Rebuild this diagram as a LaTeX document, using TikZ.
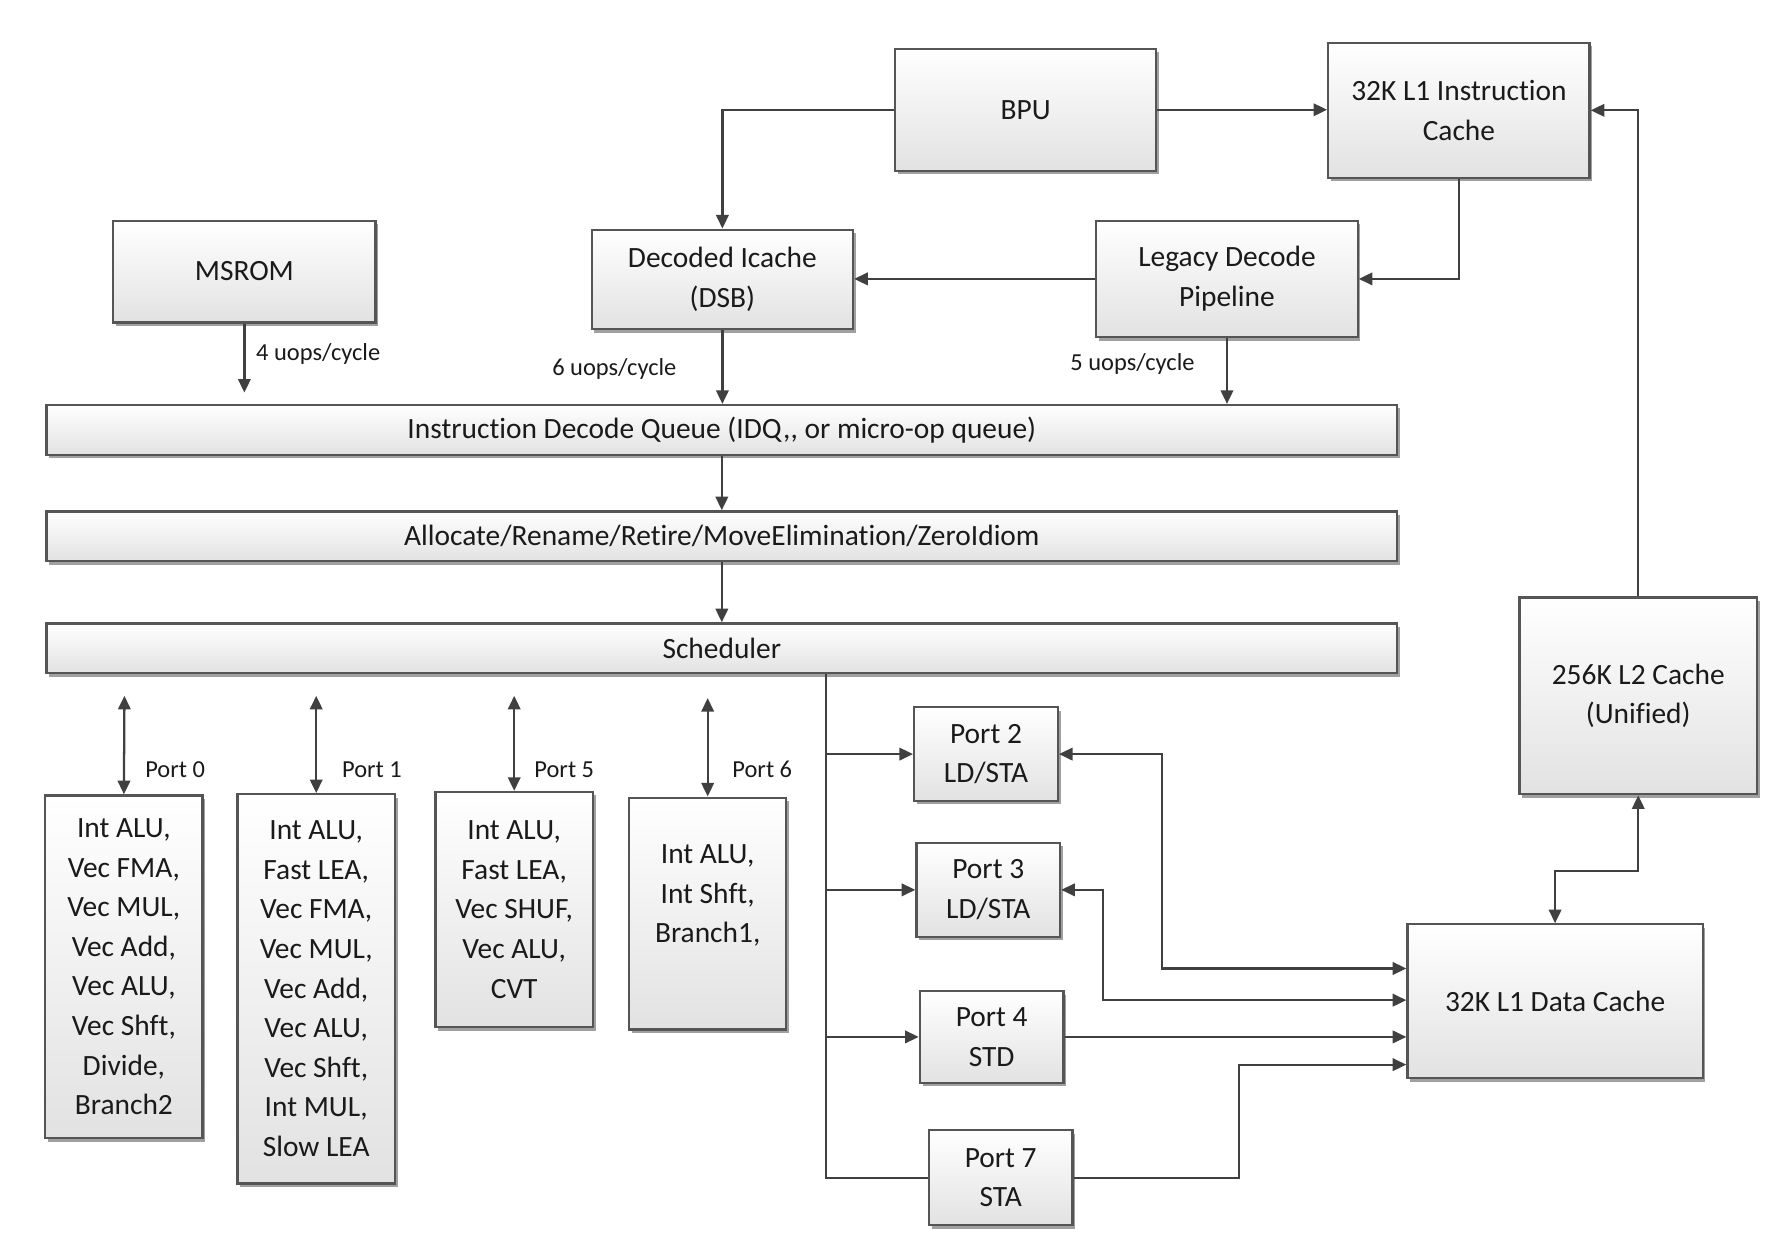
\documentclass[tikz,border=0pt]{standalone}
\usepackage{fontspec}
\setmainfont{Carlito}[Ligatures={NoCommon}]
\usetikzlibrary{arrows.meta,shadows}
\definecolor{ln}{HTML}{404040}
\definecolor{bd}{HTML}{555555}
\definecolor{bf}{HTML}{E2E2E2}
\definecolor{sh}{HTML}{A0A0A0}
\definecolor{tx}{HTML}{1A1A1A}
\tikzset{
 box/.style={draw=bd, line width=1pt, top color=white, bottom color=bf, align=center, inner sep=0pt,
   font=\fontsize{13}{17.5}\selectfont, text=tx,
   drop shadow={shadow xshift=1.2pt, shadow yshift=-1.5pt, fill=sh, opacity=1}},
 conn/.style={draw=ln, line width=1pt},
 arr/.style={conn, -{Triangle[length=6pt,width=5.5pt]}},
 darr/.style={conn, {Triangle[length=6pt,width=5.5pt]}-{Triangle[length=6pt,width=5.5pt]}},
 lbl/.style={font=\fontsize{10.8}{13}\selectfont, text=tx, inner sep=0pt},
}
\begin{document}
\begin{tikzpicture}[x=0.5pt,y=-0.5pt]
\useasboundingbox (0,0) rectangle (1568,1100);
% top boxes
\node[box, minimum width=115.5pt, minimum height=54pt] (bpu) at (906.5,97) {BPU};
\node[box, minimum width=115.5pt, minimum height=59.5pt] (l1i) at (1289.5,97.5) {32K L1 Instruction\\Cache};
\node[box, minimum width=116pt, minimum height=45pt] (msrom) at (216,240) {MSROM};
\node[box, minimum width=115.5pt, minimum height=44pt] (dsb) at (638.5,247) {Decoded Icache\\(DSB)};
\node[box, minimum width=115.5pt, minimum height=51.5pt] (legacy) at (1084.5,246.5) {Legacy Decode\\Pipeline};
% bars
\node[box, minimum width=597pt, minimum height=22pt] (idq) at (638,380) {Instruction Decode Queue (IDQ,{}, or micro-op queue)};
\node[box, minimum width=597pt, minimum height=22pt] (alloc) at (638,474) {Allocate/Rename/Retire/MoveElimination/ZeroIdiom};
\node[box, minimum width=597pt, minimum height=22pt] (sched) at (638,573) {Scheduler};
% execution port boxes
\node[box, minimum width=69.5pt, minimum height=151.5pt] (p0) at (109.5,854.5) {Int ALU,\\Vec FMA,\\Vec MUL,\\Vec Add,\\Vec ALU,\\Vec Shft,\\Divide,\\Branch2};
\node[box, minimum width=69.5pt, minimum height=172pt] (p1) at (279.5,874) {Int ALU,\\Fast LEA,\\Vec FMA,\\Vec MUL,\\Vec Add,\\Vec ALU,\\Vec Shft,\\Int MUL,\\Slow LEA};
\node[box, minimum width=69.5pt, minimum height=104pt] (p5) at (454.5,804) {Int ALU,\\Fast LEA,\\Vec SHUF,\\Vec ALU,\\CVT};
\node[box, minimum width=69.5pt, minimum height=102.5pt] (p6) at (625.5,807.5) {Int ALU,\\Int Shft,\\Branch1,\\\mbox{}};
% memory ports
\node[box, minimum width=63.5pt, minimum height=41.5pt] (p2) at (871.5,666.5) {Port 2\\LD/STA};
\node[box, minimum width=63.5pt, minimum height=41.5pt] (p3) at (873.5,786.5) {Port 3\\LD/STA};
\node[box, minimum width=63.5pt, minimum height=40.5pt] (p4) at (876.5,916.5) {Port 4\\STD};
\node[box, minimum width=63.5pt, minimum height=42pt] (p7) at (884.5,1041) {Port 7\\STA};
% caches
\node[box, minimum width=130.5pt, minimum height=68pt] (l1d) at (1374.5,885) {32K L1 Data Cache};
\node[box, minimum width=105pt, minimum height=87pt] (l2) at (1448,615) {256K L2 Cache\\(Unified)};

% front-end connectors
\draw[arr] (bpu.east) -- (bpu.east -| l1i.west);
\draw[arr] (bpu.west) -| (dsb.north);
\draw[arr] (l1i.south) |- (legacy.east);
\draw[arr] (legacy.west) -- (legacy.west -| dsb.east);
\draw[arr] (l2.north) |- (l1i.east);
\coordinate (msend) at (216,347);
\draw[arr] (msrom.south) -- (msend);
\draw[arr] (dsb.south) -- (dsb.south |- idq.north);
\draw[arr] (legacy.south) -- (legacy.south |- idq.north);
\draw[arr] (idq.south) -- (alloc.north);
\draw[arr] (alloc.south) -- (sched.north);
\node[lbl, anchor=west] (lm) at (226,313) {4 uops/cycle};
\node[lbl] (ld) at (543,326) {6 uops/cycle};
\node[lbl] (ll) at (1001,322) {5 uops/cycle};

% execution ports
\coordinate (t0) at (110,615);
\coordinate (t1) at (279.5,615);
\coordinate (t5) at (454.5,615);
\coordinate (t6) at (625.5,617);
\draw[darr] (t0) -- (p0.north);
\draw[darr] (t1) -- (p1.north);
\draw[darr] (t5) -- (p5.north);
\draw[darr] (t6) -- (p6.north);
\node[lbl, anchor=west] (n0) at (128,680) {Port 0};
\node[lbl, anchor=west] (n1) at (302,680) {Port 1};
\node[lbl, anchor=west] (n5) at (472,680) {Port 5};
\node[lbl, anchor=west] (n6) at (647,680) {Port 6};

% memory side
\draw[conn] (sched.south -| 730,0) |- (p7.west);
\draw[arr] (p2.west -| 730,0) -- (p2.west);
\draw[arr] (p3.west -| 730,0) -- (p3.west);
\draw[arr] (p4.west -| 730,0) -- (p4.west);
\draw[darr] (p2.east) -| (1027,856) -- (l1d.west |- 0,856);
\draw[darr] (p3.east) -| (975,884) -- (l1d.west |- 0,884);
\draw[arr] (p4.east) -- (p4.east -| l1d.west);
\draw[arr] (p7.east) -| (1095,941) -- (l1d.west |- 0,941);
\draw[darr] (l1d.north) -- (1374.5,770) -| (l2.south);
\end{tikzpicture}
\end{document}
